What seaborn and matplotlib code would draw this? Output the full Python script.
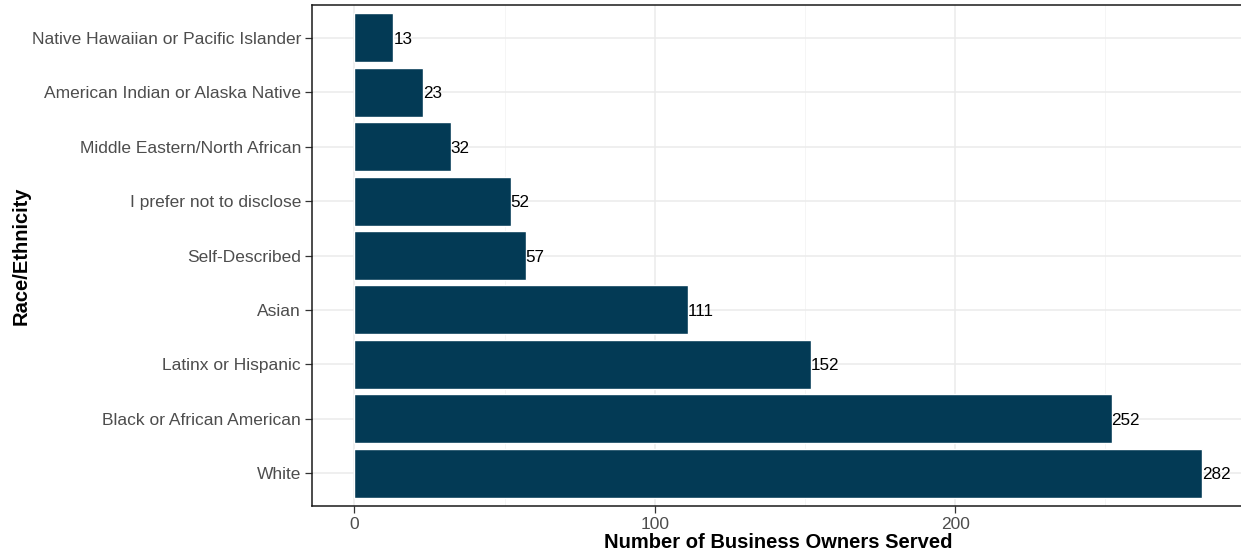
import matplotlib
matplotlib.use("Agg")
import matplotlib.pyplot as plt
import matplotlib.ticker as mticker
import seaborn as sns
import pandas as pd

# Dados
categorias = [
    "Native Hawaiian or Pacific Islander",
    "American Indian or Alaska Native",
    "Middle Eastern/North African",
    "I prefer not to disclose",
    "Self-Described",
    "Asian",
    "Latinx or Hispanic",
    "Black or African American",
    "White",
]
valores = [13, 23, 32, 52, 57, 111, 152, 252, 282]

COR_BARRA = "#033A55"
CINZA_TXT = "#4D4D4D"
GRADE = "#EBEBEB"

sns.set_theme(style="white")
plt.rcParams["font.family"] = ["Liberation Sans", "DejaVu Sans"]

df = pd.DataFrame({"raca": categorias, "n": valores})

fig = plt.figure(figsize=(12.41, 5.56), dpi=100)
ax = fig.add_axes([312 / 1241, 50 / 556, (1244 - 312) / 1241, 501 / 556])

sns.barplot(data=df, x="n", y="raca", order=categorias, color=COR_BARRA,
            saturation=1, width=0.9, ax=ax, zorder=3)

for i, v in enumerate(valores):
    ax.text(v, i, str(v), va="center_baseline", ha="left", fontsize=12.3,
            color="black", zorder=4)

ax.set_xlim(-14.1, 296.1)
ax.set_ylim(8.6, -0.6)
ax.xaxis.set_major_locator(mticker.MultipleLocator(100))
ax.xaxis.set_minor_locator(mticker.MultipleLocator(50))
ax.grid(which="major", axis="both", color=GRADE, linewidth=1.1, zorder=0)
ax.grid(which="minor", axis="x", color="#F4F4F4", linewidth=0.6, zorder=0)
ax.set_axisbelow(True)

for lado in ["left", "bottom", "top"]:
    ax.spines[lado].set_visible(True)
    ax.spines[lado].set_color("#1a1a1a")
    ax.spines[lado].set_linewidth(1.1)
ax.spines["right"].set_visible(False)

ax.tick_params(axis="both", which="major", length=5, width=0.9,
               color="#333333", labelcolor=CINZA_TXT, labelsize=12.5,
               left=True, bottom=True, pad=3)
ax.tick_params(axis="x", which="minor", length=0)

ax.set_xlabel("Number of Business Owners Served", fontsize=14.5,
              fontweight="bold", color="black", labelpad=1)
ax.set_ylabel("Race/Ethnicity", fontsize=14.5, fontweight="bold",
              color="black")
ax.yaxis.set_label_coords(-0.302, 0.5)

fig.savefig("out.png", dpi=100)
